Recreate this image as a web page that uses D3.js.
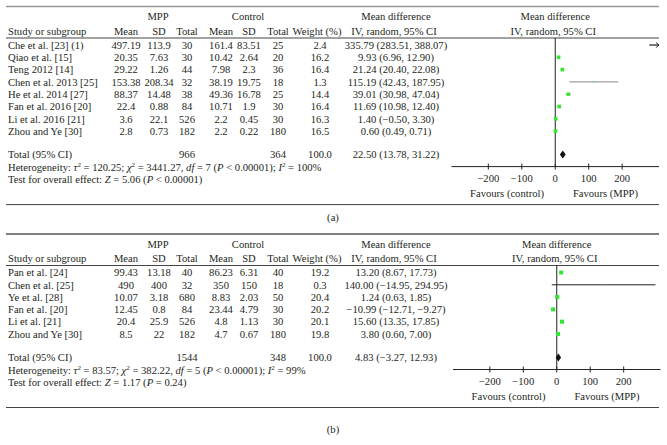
<!DOCTYPE html>
<html><head><meta charset="utf-8">
<script src="https://cdn.jsdelivr.net/npm/d3@7"></script>
<style>
html,body{margin:0;padding:0;background:#fff;}
svg text{font-family:"Liberation Serif","Times New Roman",serif;font-size:10.6px;fill:#231f20;}
</style></head>
<body><svg id="c" width="667" height="445"></svg>
<script>
// ---------- Data: panel (a) ----------
const studiesA = ["Che et al. [23] (1)", "Qiao et al. [15]", "Teng 2012 [14]", "Chen et al. 2013 [25]", "He et al. 2014 [27]", "Fan et al. 2016 [20]", "Li et al. 2016 [21]", "Zhou and Ye [30]"];
const mppMeanA = [497.19, 20.35, 29.22, 153.38, 88.37, 22.4, 3.6, 2.8];
const mppSDA = [113.9, 7.63, 1.26, 208.34, 14.48, 0.88, 22.1, 0.73];
const mppNA = [30, 30, 44, 32, 38, 84, 526, 182];
const ctlMeanA = [161.4, 10.42, 7.98, 38.19, 49.36, 10.71, 2.2, 2.2];
const ctlSDA = [83.51, 2.64, 2.3, 19.75, 16.78, 1.9, 0.45, 0.22];
const ctlNA = [25, 20, 36, 18, 25, 30, 30, 180];
const weightA = [2.4, 16.2, 16.4, 1.3, 14.4, 16.4, 16.3, 16.5];
const mdA = [335.79, 9.93, 21.24, 115.19, 39.01, 11.69, 1.40, 0.60];
const loA = [283.51, 6.96, 20.40, 42.43, 30.98, 10.98, -0.50, 0.49];
const hiA = [388.07, 12.90, 22.08, 187.95, 47.04, 12.40, 3.30, 0.71];
const totalA = {mppN: 966, ctlN: 364, weight: 100.0, md: 22.50, lo: 13.78, hi: 31.22};
const hetA = {tau2: "120.25", chi2: "3441.27", df: "7", p: "< 0.00001", i2: "100%", z: "5.06", pz: "< 0.00001"};

// ---------- Data: panel (b) ----------
const studiesB = ["Pan et al. [24]", "Chen et al. [25]", "Ye et al. [28]", "Fan et al. [20]", "Li et al. [21]", "Zhou and Ye [30]"];
const mppMeanB = [99.43, 490, 10.07, 12.45, 20.4, 8.5];
const mppSDB = [13.18, 400, 3.18, 0.8, 25.9, 22];
const mppNB = [40, 32, 680, 84, 526, 182];
const ctlMeanB = [86.23, 350, 8.83, 23.44, 4.8, 4.7];
const ctlSDB = [6.31, 150, 2.03, 4.79, 1.13, 0.67];
const ctlNB = [40, 18, 50, 30, 30, 180];
const weightB = [19.2, 0.3, 20.4, 20.2, 20.1, 19.8];
const mdB = [13.20, 140.00, 1.24, -10.99, 15.60, 3.80];
const loB = [8.67, -14.95, 0.63, -12.71, 13.35, 0.60];
const hiB = [17.73, 294.95, 1.85, -9.27, 17.85, 7.00];
const totalB = {mppN: 1544, ctlN: 348, weight: 100.0, md: 4.83, lo: -3.27, hi: 12.93};
const hetB = {tau2: "83.57", chi2: "382.22", df: "5", p: "< 0.00001", i2: "99%", z: "1.17", pz: "= 0.24"};

const tickValues = [-200, -100, 0, 100, 200];
const axisDomain = [-310, 310];
const panelLabels = ["(a)", "(b)"];

// ---------- Drawing ----------
const svg = d3.select("#c");
const fmt2 = v => (v < 0 ? "\u2212" : "") + Math.abs(v).toFixed(2);
const ciText = (m, l, h) => `${fmt2(m)} (${fmt2(l)}, ${fmt2(h)})`;

const col = {study: 8, mppMean: 126, mppSD: 159, mppN: 187, ctlMean: 221, ctlSD: 249, ctlN: 278, weight: 320, md: 396};

function drawPanel(p) {
  const g = svg.append("g").attr("transform", `translate(0,${p.y0})`);
  const step = 12.3;
  const rowY = i => 45 + i * step;
  const n = p.studies.length;
  const totalY = rowY(n - 1) + 23.5;
  const axisY = totalY + 12;
  const x = d3.scaleLinear().domain(axisDomain).range(p.range);

  // rules
  g.append("line").attr("x1", 6).attr("x2", 659).attr("y1", 6.5).attr("y2", 6.5)
    .attr("stroke", p.topRule).attr("stroke-width", 1.3);
  g.append("line").attr("x1", 6).attr("x2", 659).attr("y1", 38).attr("y2", 38)
    .attr("stroke", "#444").attr("stroke-width", 1);
  g.append("line").attr("x1", 6).attr("x2", 659).attr("y1", axisY + 38).attr("y2", axisY + 38)
    .attr("stroke", "#444").attr("stroke-width", 1);

  const t = (xx, yy, s, anchor) => g.append("text").attr("x", xx).attr("y", yy).attr("dy", "0.35em")
    .attr("text-anchor", anchor || "middle").text(s);

  // headers
  t(158, 16.5, "MPP");
  t(248, 16.5, "Control");
  t(col.study, 31, "Study or subgroup", "start");
  t(col.mppMean, 31, "Mean"); t(col.mppSD, 31, "SD"); t(col.mppN, 31, "Total");
  t(col.ctlMean, 31, "Mean"); t(col.ctlSD, 31, "SD"); t(col.ctlN, 31, "Total");
  t(col.weight - 3, 31, "Weight (%)");
  t(col.md, 16.5, "Mean difference"); t(col.md - 2, 31, "IV, random, 95% CI");
  t(x(0), 16.5, "Mean difference"); t(x(0) - 2, 31, "IV, random, 95% CI");

  // rows
  p.studies.forEach((s, i) => {
    const y = rowY(i);
    t(col.study, y, s, "start");
    t(col.mppMean, y, String(p.mppMean[i]));
    t(col.mppSD, y, String(p.mppSD[i]));
    t(col.mppN, y, String(p.mppN[i]));
    t(col.ctlMean, y, String(p.ctlMean[i]));
    t(col.ctlSD, y, String(p.ctlSD[i]));
    t(col.ctlN, y, String(p.ctlN[i]));
    t(col.weight, y, p.weight[i].toFixed(1));
    t(col.md, y, ciText(p.md[i], p.lo[i], p.hi[i]));
  });

  // totals
  t(col.study, totalY, "Total (95% CI)", "start");
  t(col.mppN, totalY, String(p.total.mppN));
  t(col.ctlN, totalY, String(p.total.ctlN));
  t(col.weight, totalY, p.total.weight.toFixed(1));
  t(col.md, totalY, ciText(p.total.md, p.total.lo, p.total.hi));

  // heterogeneity line
  const h = p.het;
  const het = g.append("text").attr("x", col.study).attr("y", totalY + 13).attr("dy", "0.35em");
  const sp = (s, style) => { const e = het.append("tspan").text(s); if (style === "i") e.attr("font-style", "italic"); if (style === "sup") e.attr("baseline-shift", "super").attr("font-size", "7px"); return e; };
  sp("Heterogeneity: "); sp("\u03C4", "i"); sp("2", "sup"); sp(` = ${h.tau2}; `); sp("\u03C7", "i"); sp("2", "sup");
  sp(` = ${h.chi2}, `); sp("df", "i"); sp(` = ${h.df} (`); sp("P", "i"); sp(` ${h.p}); `); sp("I", "i"); sp("2", "sup"); sp(` = ${h.i2}`);
  const zt = g.append("text").attr("x", col.study).attr("y", totalY + 24.5).attr("dy", "0.35em");
  zt.append("tspan").text("Test for overall effect: ");
  zt.append("tspan").attr("font-style", "italic").text("Z");
  zt.append("tspan").text(` = ${h.z} (`);
  zt.append("tspan").attr("font-style", "italic").text("P");
  zt.append("tspan").text(` ${h.pz})`);

  // forest plot: zero line
  g.append("line").attr("x1", x(0)).attr("x2", x(0)).attr("y1", 38).attr("y2", axisY)
    .attr("stroke", "#222").attr("stroke-width", 1);

  // CI lines and squares
  const [dmin, dmax] = axisDomain;
  p.studies.forEach((s, i) => {
    const y = rowY(i);
    const lo = Math.max(p.lo[i], dmin), hi = Math.min(p.hi[i], dmax);
    if (lo < hi) {
      g.append("line").attr("x1", x(lo)).attr("x2", x(hi)).attr("y1", y).attr("y2", y)
        .attr("stroke", p.ciColor).attr("stroke-width", 1);
    }
    if (p.hi[i] > dmax) {
      const xe = x(dmax);
      g.append("path").attr("d", `M${xe - 10},${y} L${xe},${y} M${xe - 3},${y - 2.5} L${xe},${y} L${xe - 3},${y + 2.5}`)
        .attr("stroke", "#222").attr("stroke-width", 0.9).attr("fill", "none");
    }
    if (p.md[i] >= dmin && p.md[i] <= dmax) {
      const sz = Math.sqrt(p.weight[i]) * 0.9;
      g.append("rect").attr("x", x(p.md[i]) - sz / 2).attr("y", y - sz / 2)
        .attr("width", sz).attr("height", sz).attr("fill", "#33e633");
    }
  });

  // diamond
  const dh = 4;
  g.append("path").attr("d", `M${x(p.total.lo)},${totalY} L${x(p.total.md)},${totalY - dh} L${x(p.total.hi)},${totalY} L${x(p.total.md)},${totalY + dh} Z`)
    .attr("fill", "#111");

  // axis
  const ax = g.append("g").attr("transform", `translate(0,${axisY})`);
  ax.append("line").attr("x1", p.range[0]).attr("x2", p.range[1]).attr("stroke", "#222");
  ax.selectAll("line.tk").data(tickValues).join("line").attr("class", "tk")
    .attr("x1", d => x(d)).attr("x2", d => x(d)).attr("y1", -3).attr("y2", 3).attr("stroke", "#222");
  ax.selectAll("text.tl").data(tickValues).join("text").attr("class", "tl")
    .attr("x", d => x(d)).attr("y", 12).attr("dy", "0.35em").attr("text-anchor", "middle")
    .text(d => (d < 0 ? "\u2212" : "") + Math.abs(d));
  ax.append("text").attr("x", x(-150) + 2).attr("y", 27).attr("dy", "0.35em").attr("text-anchor", "middle").text("Favours (control)");
  ax.append("text").attr("x", x(150)).attr("y", 27).attr("dy", "0.35em").attr("text-anchor", "middle").text("Favours (MPP)");

  // caption
  svg.append("text").attr("x", 333).attr("y", p.y0 + p.labelY).attr("dy", "0.35em").attr("text-anchor", "middle").text(p.label);
}

drawPanel({y0: 0, studies: studiesA, mppMean: mppMeanA, mppSD: mppSDA, mppN: mppNA, ctlMean: ctlMeanA, ctlSD: ctlSDA, ctlN: ctlNA,
  weight: weightA, md: mdA, lo: loA, hi: hiA, total: totalA, het: hetA, range: [451.5, 659], ciColor: "#888", topRule: "#999",
  label: panelLabels[0], labelY: 217});
drawPanel({y0: 227.5, studies: studiesB, mppMean: mppMeanB, mppSD: mppSDB, mppN: mppNB, ctlMean: ctlMeanB, ctlSD: ctlSDB, ctlN: ctlNB,
  weight: weightB, md: mdB, lo: loB, hi: hiB, total: totalB, het: hetB, range: [453, 660.5], ciColor: "#222", topRule: "#555",
  label: panelLabels[1], labelY: 201.5});
</script></body></html>
